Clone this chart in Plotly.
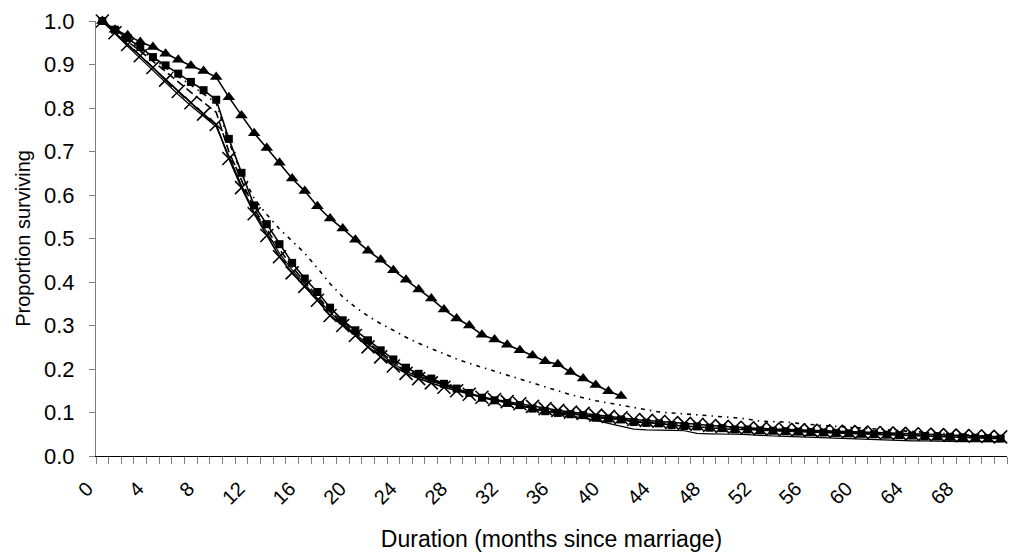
import plotly.graph_objects as go

months = list(range(72))
x_tick_vals = list(range(0, 69, 4))
x_tick_text = [str(v) for v in x_tick_vals]
y_tick_vals = [round(i * 0.1, 1) for i in range(11)]

tri = [1.000, 0.980, 0.967, 0.952, 0.940, 0.925, 0.911, 0.897, 0.885, 0.871,
       0.825, 0.783, 0.742, 0.708, 0.674, 0.638, 0.609, 0.574, 0.546, 0.523,
       0.497, 0.472, 0.451, 0.427, 0.405, 0.383, 0.362, 0.337, 0.316, 0.300,
       0.279, 0.268, 0.256, 0.243, 0.231, 0.218, 0.211, 0.193, 0.178, 0.163,
       0.149, 0.138]

squares = [1.000, 0.980, 0.961, 0.940, 0.917, 0.898, 0.879, 0.860, 0.841, 0.819,
           0.729, 0.651, 0.576, 0.533, 0.487, 0.444, 0.408, 0.377, 0.341, 0.312,
           0.289, 0.266, 0.243, 0.222, 0.203, 0.189, 0.178, 0.166, 0.155, 0.145,
           0.134, 0.128, 0.122, 0.117, 0.109, 0.103, 0.099, 0.096, 0.094, 0.088,
           0.086, 0.084, 0.078, 0.076, 0.075, 0.071, 0.069, 0.068, 0.065, 0.064,
           0.061, 0.061, 0.059, 0.058, 0.057, 0.056, 0.055, 0.054, 0.053, 0.052,
           0.051, 0.050, 0.049, 0.048, 0.047, 0.046, 0.045, 0.044, 0.043, 0.042,
           0.041, 0.040]

crosses = [1.000, 0.973, 0.946, 0.920, 0.893, 0.864, 0.838, 0.812, 0.786, 0.762,
           0.684, 0.617, 0.557, 0.507, 0.458, 0.421, 0.390, 0.358, 0.323, 0.300,
           0.277, 0.251, 0.228, 0.207, 0.190, 0.178, 0.168, 0.158, 0.150, 0.142,
           0.135, 0.130, 0.125, 0.120, 0.114, 0.109, 0.105, 0.101, 0.098, 0.094,
           0.091, 0.088, 0.084, 0.082, 0.080, 0.077, 0.075, 0.073, 0.070, 0.068,
           0.066, 0.065, 0.063, 0.062, 0.061, 0.060, 0.059, 0.058, 0.057, 0.056,
           0.055, 0.054, 0.053, 0.052, 0.051, 0.050, 0.049, 0.048, 0.047, 0.046,
           0.045, 0.044]

dashed = [1.000, 0.976, 0.953, 0.931, 0.908, 0.884, 0.860, 0.836, 0.812, 0.790,
          0.700, 0.635, 0.568, 0.522, 0.475, 0.435, 0.400, 0.368, 0.334, 0.307,
          0.284, 0.260, 0.238, 0.217, 0.198, 0.185, 0.174, 0.163, 0.153, 0.144,
          0.135, 0.129, 0.123, 0.118, 0.111, 0.106, 0.102, 0.098, 0.095, 0.091,
          0.088, 0.085, 0.080, 0.078, 0.077, 0.074, 0.072, 0.070, 0.068, 0.066,
          0.064, 0.063, 0.061, 0.060, 0.059, 0.058, 0.057, 0.056, 0.055, 0.054,
          0.053, 0.052, 0.051, 0.050, 0.049, 0.048, 0.047, 0.046, 0.045, 0.044,
          0.043, 0.042]

dashdot = [1.000, 0.978, 0.957, 0.936, 0.913, 0.893, 0.873, 0.853, 0.833, 0.812,
           0.722, 0.650, 0.592, 0.555, 0.522, 0.494, 0.466, 0.432, 0.396, 0.366,
           0.342, 0.322, 0.304, 0.289, 0.273, 0.259, 0.247, 0.235, 0.223, 0.213,
           0.204, 0.195, 0.186, 0.176, 0.167, 0.158, 0.149, 0.141, 0.134, 0.127,
           0.122, 0.117, 0.112, 0.106, 0.101, 0.099, 0.097, 0.095, 0.092, 0.090,
           0.088, 0.085, 0.080, 0.079, 0.078, 0.075, 0.072, 0.070, 0.068, 0.066,
           0.064, 0.062, 0.060, 0.058, 0.056, 0.054, 0.052, 0.050, 0.048, 0.047,
           0.046, 0.045]

thin = [1.000, 0.970, 0.942, 0.914, 0.886, 0.858, 0.831, 0.805, 0.780, 0.757,
        0.690, 0.622, 0.560, 0.515, 0.466, 0.428, 0.395, 0.362, 0.330, 0.303,
        0.280, 0.256, 0.233, 0.212, 0.195, 0.182, 0.172, 0.162, 0.153, 0.144,
        0.136, 0.129, 0.122, 0.115, 0.109, 0.103, 0.098, 0.093, 0.088, 0.082,
        0.075, 0.068, 0.062, 0.060, 0.060, 0.059, 0.058, 0.052, 0.051, 0.051,
        0.050, 0.049, 0.047, 0.046, 0.045, 0.044, 0.043, 0.042, 0.040, 0.039,
        0.038, 0.037, 0.036, 0.036, 0.035, 0.035, 0.034, 0.034, 0.033, 0.033,
        0.033, 0.033]

FONT = "Liberation Sans, Arial, sans-serif"

fig = go.Figure()
fig.add_trace(go.Scatter(x=months, y=thin, mode="lines",
                         line=dict(color="black", width=1.2), cliponaxis=False))
fig.add_trace(go.Scatter(x=months, y=dashdot, mode="lines",
                         line=dict(color="black", width=1.6, dash="4px,5px,1.5px,5px"),
                         cliponaxis=False))
fig.add_trace(go.Scatter(x=months, y=dashed, mode="lines",
                         line=dict(color="black", width=1.6, dash="8px,4px"),
                         cliponaxis=False))
fig.add_trace(go.Scatter(x=months, y=crosses, mode="lines+markers",
                         line=dict(color="black", width=1.6),
                         marker=dict(symbol="x-thin", size=13,
                                     line=dict(color="black", width=1.6)),
                         cliponaxis=False))
fig.add_trace(go.Scatter(x=months, y=squares, mode="lines+markers",
                         line=dict(color="black", width=1.6),
                         marker=dict(symbol="square", size=8, color="black"),
                         cliponaxis=False))
fig.add_trace(go.Scatter(x=months[:len(tri)], y=tri, mode="lines+markers",
                         line=dict(color="black", width=1.6),
                         marker=dict(symbol="triangle-up", size=11, color="black"),
                         cliponaxis=False))

fig.update_layout(
    width=1010, height=557,
    margin=dict(l=96, r=3, t=21, b=101),
    paper_bgcolor="white", plot_bgcolor="white",
    showlegend=False,
    font=dict(family=FONT, color="black", size=20),
    xaxis=dict(
        range=[-0.5, 71.5], showgrid=False, zeroline=False,
        showline=True, linecolor="black", linewidth=1,
        tickmode="array", tickvals=x_tick_vals, ticktext=x_tick_text,
        ticks="", tickangle=-45, tickfont=dict(size=20),
        ticklabelstandoff=12, ticklabelshift=-15,
        minor=dict(tickmode="array",
                   tickvals=[m - 0.5 for m in months] + [71.5],
                   ticks="outside", ticklen=7, tickcolor="#808080", tickwidth=1),
        title=dict(text="Duration (months since marriage)",
                   font=dict(size=23), standoff=23),
    ),
    yaxis=dict(
        range=[0, 1.0], showgrid=False, zeroline=False,
        showline=True, linecolor="#808080", linewidth=1,
        tickmode="array", tickvals=y_tick_vals, tickformat=".1f",
        ticks="outside", ticklen=6, tickcolor="#808080",
        tickfont=dict(size=22), ticklabelstandoff=10,
        title=dict(text="Proportion surviving", font=dict(size=20), standoff=8),
    ),
)

fig.write_html("out.html")
